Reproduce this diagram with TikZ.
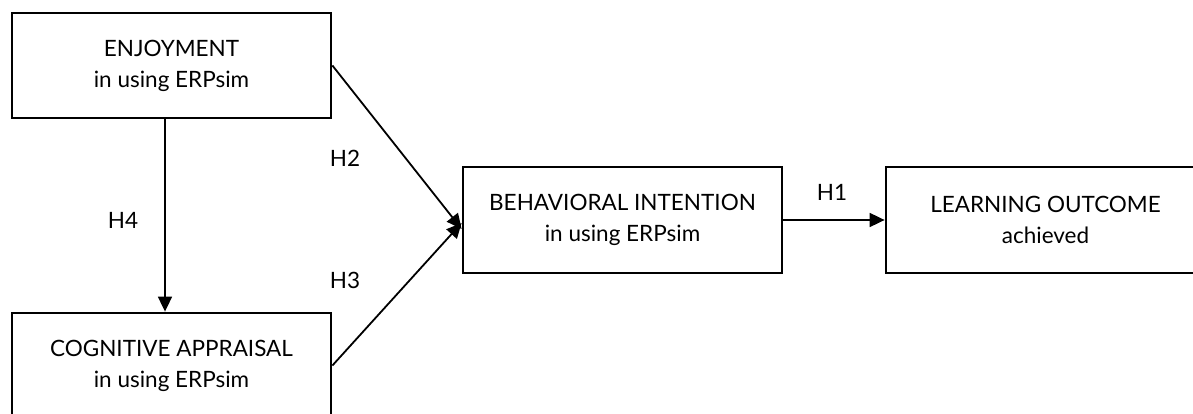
\documentclass[tikz,border=0pt]{standalone}
\usepackage{fontspec}
\setmainfont{Lato}
\usetikzlibrary{arrows.meta}
\begin{document}
\begin{tikzpicture}[x=1pt,y=-1pt,
  box/.style={draw=black, line width=2.8pt, minimum width=319pt, minimum height=105pt,
    align=center, inner sep=0pt, font=\fontsize{22.5}{31}\selectfont},
  conn/.style={line width=1.8pt, -{Triangle[length=15pt,width=14pt]}},
  lbl/.style={font=\fontsize{22.5}{26}\selectfont, inner sep=0pt}]
\useasboundingbox (0,0) rectangle (1193,414);
\begin{scope}
\clip (0,0) rectangle (1193,414);
\node[box] (enj) at (171.5,65.5) {ENJOYMENT\\in using ERPsim};
\node[box] (cog) at (171.5,365.5) {COGNITIVE APPRAISAL\\in using ERPsim};
\node[box, minimum height=106pt] (beh) at (622.5,220) {BEHAVIORAL INTENTION\\in using ERPsim};
\node[box, minimum height=106pt] (lrn) at (1045.5,220) {LEARNING OUTCOME\\achieved};
\end{scope}
\coordinate (h4s) at (165,118);
\coordinate (h4e) at (165,313);
\draw[conn] (enj.east) -- ([yshift=-9pt]beh.west);
\draw[conn] (cog.east) -- ([yshift=-3pt]beh.west);
\draw[conn] (enj.south -| h4s) -- (cog.north -| h4e);
\draw[conn] (beh.east) -- (lrn.west);
\node[lbl] (l2) at (345,158) {H2};
\node[lbl] (l3) at (345,280) {H3};
\node[lbl] (l4) at (123,220) {H4};
\node[lbl] (l1) at (832,192) {H1};
\end{tikzpicture}
\end{document}
